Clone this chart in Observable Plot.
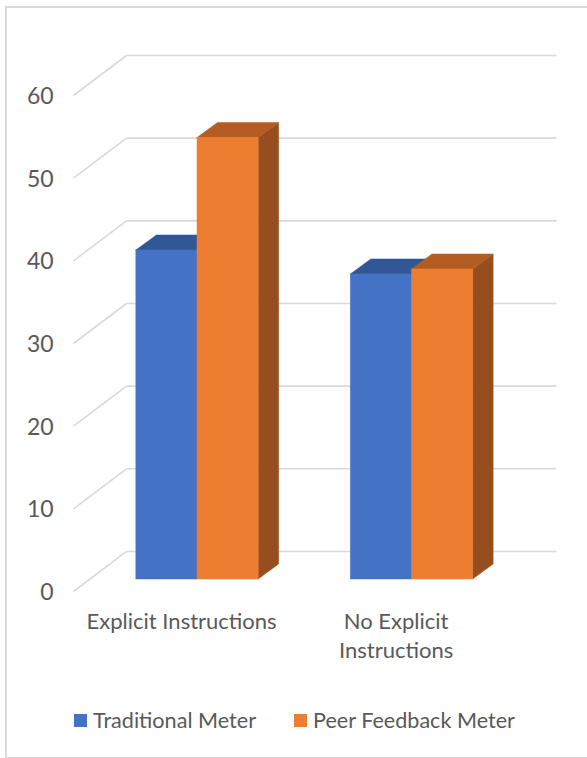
<!DOCTYPE html>
<html>
<head>
<meta charset="utf-8">
<script src="https://cdn.jsdelivr.net/npm/d3@7"></script>
<script src="https://cdn.jsdelivr.net/npm/@observablehq/plot@0.6"></script>
<style>
  html, body { margin: 0; padding: 0; background: #fff; }
  #wrap { position: relative; width: 587px; height: 758px; overflow: hidden; font-family: Lato, "Open Sans", sans-serif; }
  #frame { position: absolute; left: 5px; top: 6px; width: 700px; height: 749px; border: 2px solid #d9d9d9; box-sizing: content-box; }
  #chart { position: absolute; left: 0; top: 0; }
  .legend-item { position: absolute; top: 708px; display: flex; align-items: center; font-size: 21.6px; color: #595959; white-space: nowrap; line-height: 24px; }
  .legend-item .sw { width: 13px; height: 13px; margin-right: 6px; }
</style>
</head>
<body>
<div id="wrap">
  <div id="frame"></div>
  <div id="chart"></div>
  <div id="legend"></div>
</div>
<script>
// ---- data ----
const categories = ["Explicit Instructions", "No Explicit Instructions"];
const categoryLabels = ["Explicit Instructions", "No Explicit\nInstructions"];
const seriesNames = ["Traditional Meter", "Peer Feedback Meter"];
const traditional = [39.8, 36.9];
const peerFeedback = [53.4, 37.5];
const yTicks = [0, 10, 20, 30, 40, 50, 60];

// ---- styles / layout ----
const frontColors = ["#4472C4", "#ED7D31"];
const topColors = ["#325796", "#B45D22"];
const sideColors = ["#284A85", "#974E1E"];
const textColor = "#595959";
const gridColor = "#d9d9d9";

const barW = 0.285;        // width of one bar (category units)
const depthX = 0.0956;     // bar depth, horizontal (category units)
const depthY = 1.815;      // bar depth, vertical (value units)
const backLeft = -0.331, backRight = 1.674, backDy = 3.387;
const frontLeft = -0.578, frontDy = -1.452;
const tickX = -0.671;

const seriesValues = [traditional, peerFeedback];
const bars = [];
seriesValues.forEach((vals, s) => {
  vals.forEach((v, i) => {
    const xl = i - barW + s * barW;
    bars.push({id: s + "-" + i, s, cat: categories[i], series: seriesNames[s], v, xl, xr: xl + barW});
  });
});

function sideData(s) {
  return bars.filter(b => b.s === s).flatMap(b => [
    {id: b.id, x: b.xr, y1: 0, y2: b.v},
    {id: b.id, x: b.xr + depthX, y1: depthY, y2: b.v + depthY}
  ]);
}
function topData(s) {
  return bars.filter(b => b.s === s).flatMap(b => [
    {id: b.id, y: b.v, x1: b.xl, x2: b.xr},
    {id: b.id, y: b.v + depthY, x1: b.xl + depthX, x2: b.xr + depthX}
  ]);
}

const marks = [
  // back wall gridlines
  Plot.link(yTicks, {x1: backLeft, x2: backRight, y1: d => d + backDy, y2: d => d + backDy, stroke: gridColor, strokeWidth: 1.6}),
  // side wall diagonals
  Plot.link(yTicks, {x1: backLeft, y1: d => d + backDy, x2: frontLeft, y2: d => d + frontDy, stroke: gridColor, strokeWidth: 1.6}),
  // tick labels
  Plot.text(yTicks, {x: tickX, y: d => d + frontDy - 0.12, text: d => String(d), textAnchor: "end", fill: textColor, fontSize: 23}),
  // category labels
  Plot.text(categoryLabels, {x: (d, i) => i - 0.074, y: -3.5, text: d => d, lineAnchor: "top", lineHeight: 1.32, fill: textColor, fontSize: 22})
];
[0, 1].forEach(s => {
  marks.push(Plot.areaY(sideData(s), {x: "x", y1: "y1", y2: "y2", z: "id", fill: sideColors[s], stroke: sideColors[s], strokeWidth: 0.5}));
  marks.push(Plot.areaX(topData(s), {y: "y", x1: "x1", x2: "x2", z: "id", fill: topColors[s], stroke: topColors[s], strokeWidth: 0.5}));
  marks.push(Plot.rect(bars.filter(b => b.s === s), {x1: "xl", x2: "xr", y1: 0, y2: "v", fill: frontColors[s], stroke: frontColors[s], strokeWidth: 0.5}));
});

const chart = Plot.plot({
  width: 587,
  height: 680,
  marginLeft: 0, marginRight: 0, marginTop: 0, marginBottom: 0,
  x: {type: "linear", domain: [-0.9184, 1.8182], axis: null},
  y: {type: "linear", domain: [-12.22, 70.04], axis: null},
  style: {fontFamily: "Lato, 'Open Sans', sans-serif", background: "transparent", overflow: "visible"},
  marks
});
document.getElementById("chart").appendChild(chart);

// legend
const legend = document.getElementById("legend");
const legendLeft = [74, 294];
seriesNames.forEach((name, s) => {
  const item = document.createElement("div");
  item.className = "legend-item";
  item.style.left = legendLeft[s] + "px";
  item.innerHTML = `<span class="sw" style="background:${frontColors[s]}"></span><span>${name}</span>`;
  legend.appendChild(item);
});
</script>
</body>
</html>
